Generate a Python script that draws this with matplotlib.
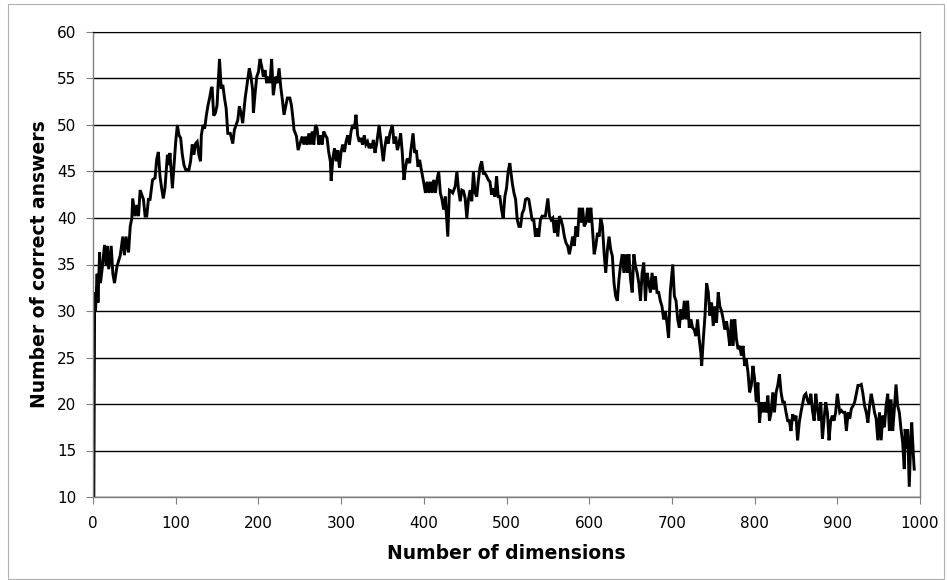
import numpy as np
import matplotlib
matplotlib.use("Agg")
import matplotlib.pyplot as plt
from matplotlib.patches import Rectangle

# Correct answers per number of dimensions (vertices of the curve)
dims = [
    1, 2, 3, 4, 5, 6, 8, 9, 11, 14, 16, 17, 19, 22, 24, 26, 29, 33, 36, 38,
    40, 43, 45, 47, 48, 51, 53, 55, 57, 61, 63, 65, 67, 69, 72, 75, 77, 79,
    81, 83, 85, 87, 90, 92, 93, 96, 98, 100, 102, 104, 106, 108, 110, 112,
    116, 118, 120, 122, 124, 126, 128, 130, 131, 133, 135, 137, 139, 141,
    143, 144, 146, 148, 150, 151, 153, 155, 157, 159, 161, 163, 166,
    169, 171, 173, 175, 177, 179, 181, 184, 187, 189, 191, 193, 194, 196,
    198, 200, 202, 204, 206, 208, 210, 212, 214, 216, 218, 221, 223, 225,
    227, 229, 231, 233, 235, 238, 240, 242, 243, 246, 248, 251,
    253, 255, 257, 259, 261, 263, 265, 267, 269, 271, 273, 275, 277, 279,
    281, 283, 285, 287, 288, 290, 292, 294, 296, 298, 300, 302, 304, 306,
    308, 310, 312, 314, 316, 318, 320, 322, 324, 326, 328, 330, 332, 334,
    335, 337, 339, 341, 343, 346, 348, 351, 353, 355, 357, 359, 362, 364,
    366, 368, 370, 372, 374, 376, 378, 380, 383, 384, 387, 389, 391, 393,
    395, 397, 400, 402, 404, 406, 408, 410, 412, 414, 416, 418, 420,
    422, 424, 426, 429, 431, 433, 435, 438, 440, 442, 444, 446, 448, 450,
    452, 454, 456, 458, 460, 462, 464, 466, 468, 470, 472, 474, 476, 478,
    480, 482, 484, 486, 488, 490, 492, 494, 496, 498, 500, 502, 504, 507,
    509, 511, 513, 515, 517, 519, 521, 523, 525, 527, 529, 531, 533, 535,
    537, 539, 541, 543, 545, 547, 550, 552, 554, 556, 558, 560, 562, 564,
    566, 568, 570, 572, 574, 576, 578, 580, 582, 584, 586, 588, 590, 592,
    594, 596, 598, 600, 602, 604, 606, 608, 610, 612, 614, 616, 618, 620,
    622, 624, 626, 628, 630, 632, 634, 636, 638, 640, 642, 644, 646, 648,
    650, 652, 654, 656, 658, 660, 662, 664, 666, 668, 670, 672, 674, 676,
    678, 680, 682, 684, 686, 688, 690, 692, 694, 696, 698, 701, 703, 705,
    707, 709, 711, 713, 715, 717, 719, 721, 723, 725, 727, 729, 731, 733,
    735, 736, 738, 740, 742, 744, 746, 748, 750, 752, 754, 756, 758, 760,
    762, 764, 766, 768, 770, 772, 774, 776, 778, 780, 782, 784, 786, 788,
    790, 792, 794, 796, 798, 800, 802, 804, 806, 808, 810, 812, 814, 816,
    818, 820, 822, 824, 826, 828, 830, 832, 834, 836, 838, 840, 842, 844,
    846, 848, 850, 852, 854, 856, 858, 860, 862, 864, 866, 868, 870, 872,
    874, 876, 878, 880, 882, 884, 886, 888, 890, 892, 894, 896, 898, 900,
    903, 905, 907, 909, 911, 913, 915, 917, 919, 921, 923, 925, 927, 929,
    931, 933, 935, 937, 939, 941, 943, 945, 947, 949, 951, 953, 955, 957,
    959, 961, 963, 965, 967, 969, 971, 973, 975, 977, 979, 981, 982,
    984, 985, 987, 989, 990, 992, 993,
]
answers = [
    10, 32, 30, 32, 34, 30.9, 36.3, 33, 34.5, 37.1, 35, 37, 34.5, 37, 34, 33, 34.8, 36, 38, 36,
    38, 36.3, 39.1, 40, 42.1, 40.2, 41.4, 40.2, 43, 42, 40.2, 40.2, 42, 42, 44.1, 44.3, 46.3, 47.1,
    44.5, 43.2, 42.1, 43.2, 46.8, 45.7, 47, 43.2, 45.7, 48.2, 50, 48.9, 48.6, 46.8, 45.7, 45.2,
    45.2, 46.1, 47.9, 46.8, 48, 48.2, 46.8, 46.1, 48.9, 50, 49.6, 51, 52.1, 52.9,
    53.9, 54.1, 51, 51.3, 52.1, 53.9, 57.1, 53.9, 54.3, 52.9, 51.8, 49.1, 49.1,
    48, 49.5, 50, 50.5, 52, 51.3, 50.2, 52.9, 54.8, 56.1, 55.2, 53.8, 51.3, 53.4,
    55.2, 55.7, 57.1, 56.3, 55.2, 55.9, 54.5, 55.2, 54.5, 57.1, 53.2, 55.2, 54.5, 56.1,
    54.1, 52.7, 51.1, 52, 52.9, 52.9, 52.1, 50.5, 49.5, 48.8, 47.3, 48.2,
    48.75, 47.9, 48.75, 47.9, 49.1, 47.9, 49.3, 47.9, 50, 49.6, 47.9, 48.9, 47.9, 49.3,
    48.9, 48.6, 47.1, 46.1, 44, 46.4, 47.5, 46.1, 47.3, 45.4, 47.1, 47.9, 47.1, 48.2,
    48.9, 47.9, 49.3, 50, 49.6, 51.1, 48.9, 48.2, 48.6, 47.9, 48.9, 47.9, 48.2, 47.5,
    48, 47.5, 48.4, 47, 48, 50, 48.4, 46.1, 47.7, 48.75, 48, 49.1, 50, 48,
    48.75, 47.3, 48, 49.1, 47, 44.1, 45.5, 46.4, 45.9, 47, 49.1, 47, 47.3, 45.5,
    46.25, 45.2, 43.75, 42.7, 43.9, 42.7, 43.9, 42.7, 44.1, 42.7, 44.1, 45, 42.7,
    42, 40.9, 42.3, 38, 43, 42.9, 42.7, 43.4, 45, 43, 41.8, 43, 42.9, 42.1,
    40, 42, 43, 41.8, 45, 42.7, 42.3, 44.1, 45.5, 46.1, 44.8, 44.8, 44.5, 44.1,
    43.9, 42.5, 43.2, 42.3, 44.5, 42.3, 42.3, 40.9, 40, 42.3, 43.2, 45, 45.9, 43.75,
    42.7, 42, 39.8, 39.1, 39.1, 40.5, 40.9, 42, 42.1, 42, 40.9, 39.8, 39.8, 38,
    38.9, 38, 39.8, 40.2, 40.2, 40.2, 42.1, 40.2, 39.8, 40, 38.4, 39.8, 38, 40.2,
    39.8, 39.1, 38, 37.3, 37, 36.1, 37, 38, 37, 39.1, 38, 41.1, 39.5, 41.1,
    39.1, 39.5, 41.1, 39.5, 41.1, 38.75, 36.1, 37, 38.4, 38, 40, 39.1, 36.25, 34.1,
    36.6, 38, 36.6, 35.9, 33, 31.6, 31.1, 33.4, 35, 36.1, 34.1, 36.1, 34.1, 36.1,
    33.4, 32, 36.1, 34.8, 34.1, 33, 31.1, 34.1, 35.2, 31.1, 34.1, 33, 32, 34.1,
    32.3, 33.75, 32, 32, 31.1, 30.5, 29.1, 30, 28.75, 27.1, 32, 35, 31.6, 31.1,
    29.1, 28.2, 30.2, 29.1, 31.1, 29.1, 31.1, 28.2, 29.1, 28.2, 28, 27.3, 29.1, 27,
    25.5, 24.1, 27, 29.5, 33, 32, 29.5, 30.9, 28.4, 30.5, 28.75, 32, 30.5, 30,
    29.1, 28, 28.9, 27.7, 26.25, 29.1, 26.25, 29.1, 27, 25.9, 26.25, 25.2, 26.25, 24.1,
    24.8, 23.4, 21.25, 22, 24.1, 22.7, 20.2, 22.3, 18, 20.2, 19.1, 20.2, 19.1, 20.9,
    18.2, 19.1, 21.25, 19.1, 21.25, 22, 23.2, 21.25, 20.2, 20.2, 19.1, 18.2, 18.2, 17.1,
    18.9, 18.2, 18.75, 16.1, 18, 19.1, 20, 20.9, 21.1, 20.4, 20, 21.1, 19.3, 18.2,
    21.1, 19.5, 18.2, 20.2, 16.25, 18.4, 20.2, 19.1, 16.1, 18.2, 18.75, 18.2, 19.1, 21.1,
    19.1, 19.3, 19.1, 19.1, 17.1, 19.1, 18.4, 19.5, 19.8, 20.2, 21.1, 22, 22, 22.1,
    21.1, 19.8, 19.1, 18, 19.8, 21.1, 20.2, 19.1, 18.4, 16.1, 19.1, 16.1, 18.75, 17.5,
    19.8, 21.1, 17.1, 20.5, 17.1, 19.5, 22.1, 19.8, 19.1, 17.3, 15.9, 13, 17.3,
    15.2, 17.3, 11.1, 16.6, 18, 14.5, 13,
]

x_ticks = np.arange(0, 1001, 100)
y_ticks = np.arange(10, 61, 5)

W, H = 947, 580
fig = plt.figure(figsize=(W / 100, H / 100), dpi=100)
# thin grey frame around the whole chart
fig.patches.append(Rectangle((8 / W, 1 / H), 936 / W, 575 / H, transform=fig.transFigure,
                             fill=False, edgecolor="#b0b0b0", linewidth=0.8))
ax = fig.add_axes([93 / W, 1 - 497 / H, 827 / W, 465 / H])

ax.plot(dims, answers, color="black", linewidth=2.1, solid_joinstyle="miter")

ax.set_xlim(0, 1000)
ax.set_ylim(10, 60)
ax.set_xticks(x_ticks)
ax.set_yticks(y_ticks)
ax.yaxis.grid(True, color="black", linewidth=1.0)
ax.set_axisbelow(True)

for side in ["left", "right", "bottom"]:
    ax.spines[side].set_color("#808080")
    ax.spines[side].set_linewidth(1.0)
ax.spines["top"].set_color("black")
ax.tick_params(axis="both", direction="out", length=5, color="#808080",
               labelsize=11, labelcolor="black")
ax.tick_params(axis="y", pad=7)
ax.tick_params(axis="x", pad=9)

ax.set_xlabel("Number of dimensions", fontsize=13.5, fontweight="bold", labelpad=9)
ax.set_ylabel("Number of correct answers", fontsize=13.5, fontweight="bold", labelpad=6)

fig.savefig("out.png", dpi=100)
plt.close(fig)
